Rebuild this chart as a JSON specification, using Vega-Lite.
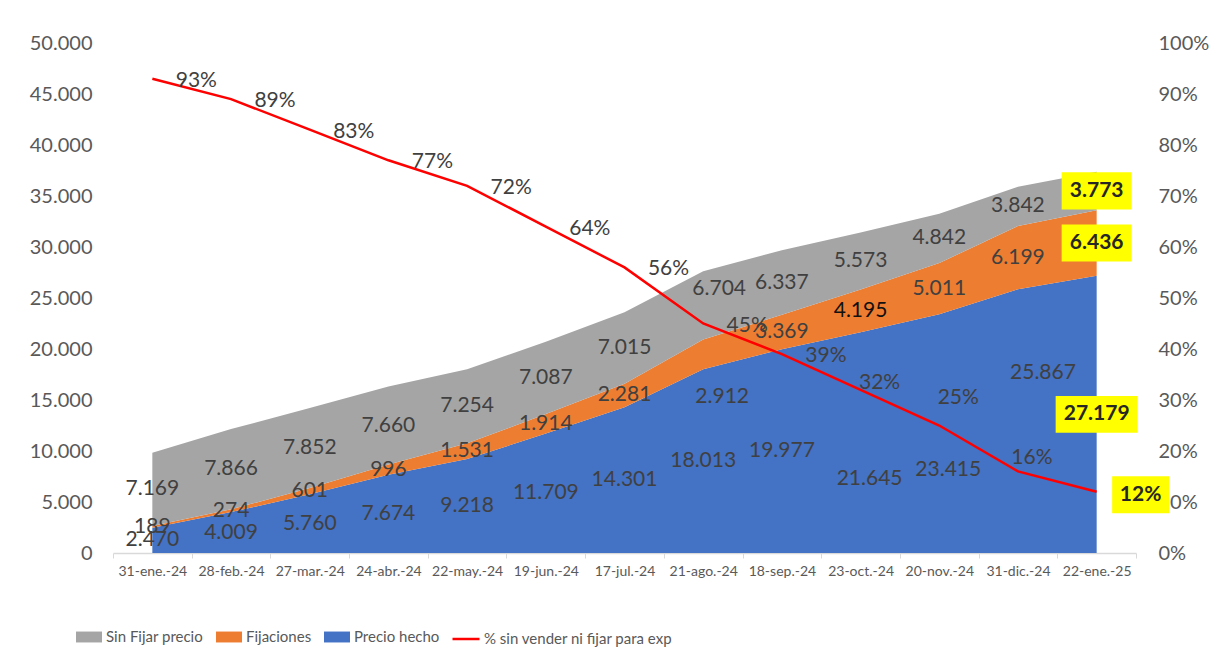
{
  "$schema": "https://vega.github.io/schema/vega-lite/v6.json",
  "width": 1023,
  "height": 510,
  "autosize": {"type": "none"},
  "padding": {"left": 113, "top": 43, "right": 75, "bottom": 119},
  "background": "white",
  "config": {
    "locale": {"number": {"decimal": ",", "thousands": ".", "grouping": [3], "currency": ["", " €"]}},
    "view": {"stroke": null},
    "font": "Lato",
    "axis": {"grid": false, "labelColor": "#595959", "labelFont": "Lato"},
    "legend": {"labelFont": "Lato", "labelColor": "#595959", "labelLimit": 400}
  },
  "datasets": {
    "areas": [
      {"fecha": "31-ene.-24", "serie": "Precio hecho", "valor": 2470},
      {"fecha": "28-feb.-24", "serie": "Precio hecho", "valor": 4009},
      {"fecha": "27-mar.-24", "serie": "Precio hecho", "valor": 5760},
      {"fecha": "24-abr.-24", "serie": "Precio hecho", "valor": 7674},
      {"fecha": "22-may.-24", "serie": "Precio hecho", "valor": 9218},
      {"fecha": "19-jun.-24", "serie": "Precio hecho", "valor": 11709},
      {"fecha": "17-jul.-24", "serie": "Precio hecho", "valor": 14301},
      {"fecha": "21-ago.-24", "serie": "Precio hecho", "valor": 18013},
      {"fecha": "18-sep.-24", "serie": "Precio hecho", "valor": 19977},
      {"fecha": "23-oct.-24", "serie": "Precio hecho", "valor": 21645},
      {"fecha": "20-nov.-24", "serie": "Precio hecho", "valor": 23415},
      {"fecha": "31-dic.-24", "serie": "Precio hecho", "valor": 25867},
      {"fecha": "22-ene.-25", "serie": "Precio hecho", "valor": 27179},
      {"fecha": "31-ene.-24", "serie": "Fijaciones", "valor": 189},
      {"fecha": "28-feb.-24", "serie": "Fijaciones", "valor": 274},
      {"fecha": "27-mar.-24", "serie": "Fijaciones", "valor": 601},
      {"fecha": "24-abr.-24", "serie": "Fijaciones", "valor": 996},
      {"fecha": "22-may.-24", "serie": "Fijaciones", "valor": 1531},
      {"fecha": "19-jun.-24", "serie": "Fijaciones", "valor": 1914},
      {"fecha": "17-jul.-24", "serie": "Fijaciones", "valor": 2281},
      {"fecha": "21-ago.-24", "serie": "Fijaciones", "valor": 2912},
      {"fecha": "18-sep.-24", "serie": "Fijaciones", "valor": 3369},
      {"fecha": "23-oct.-24", "serie": "Fijaciones", "valor": 4195},
      {"fecha": "20-nov.-24", "serie": "Fijaciones", "valor": 5011},
      {"fecha": "31-dic.-24", "serie": "Fijaciones", "valor": 6199},
      {"fecha": "22-ene.-25", "serie": "Fijaciones", "valor": 6436},
      {"fecha": "31-ene.-24", "serie": "Sin Fijar precio", "valor": 7169},
      {"fecha": "28-feb.-24", "serie": "Sin Fijar precio", "valor": 7866},
      {"fecha": "27-mar.-24", "serie": "Sin Fijar precio", "valor": 7852},
      {"fecha": "24-abr.-24", "serie": "Sin Fijar precio", "valor": 7660},
      {"fecha": "22-may.-24", "serie": "Sin Fijar precio", "valor": 7254},
      {"fecha": "19-jun.-24", "serie": "Sin Fijar precio", "valor": 7087},
      {"fecha": "17-jul.-24", "serie": "Sin Fijar precio", "valor": 7015},
      {"fecha": "21-ago.-24", "serie": "Sin Fijar precio", "valor": 6704},
      {"fecha": "18-sep.-24", "serie": "Sin Fijar precio", "valor": 6337},
      {"fecha": "23-oct.-24", "serie": "Sin Fijar precio", "valor": 5573},
      {"fecha": "20-nov.-24", "serie": "Sin Fijar precio", "valor": 4842},
      {"fecha": "31-dic.-24", "serie": "Sin Fijar precio", "valor": 3842},
      {"fecha": "22-ene.-25", "serie": "Sin Fijar precio", "valor": 3773}
    ],
    "pct": [
      {"fecha": "31-ene.-24", "serie": "% sin vender ni fijar para exp", "pct": 0.93},
      {"fecha": "28-feb.-24", "serie": "% sin vender ni fijar para exp", "pct": 0.89},
      {"fecha": "27-mar.-24", "serie": "% sin vender ni fijar para exp", "pct": 0.83},
      {"fecha": "24-abr.-24", "serie": "% sin vender ni fijar para exp", "pct": 0.77},
      {"fecha": "22-may.-24", "serie": "% sin vender ni fijar para exp", "pct": 0.72},
      {"fecha": "19-jun.-24", "serie": "% sin vender ni fijar para exp", "pct": 0.64},
      {"fecha": "17-jul.-24", "serie": "% sin vender ni fijar para exp", "pct": 0.56},
      {"fecha": "21-ago.-24", "serie": "% sin vender ni fijar para exp", "pct": 0.45},
      {"fecha": "18-sep.-24", "serie": "% sin vender ni fijar para exp", "pct": 0.39},
      {"fecha": "23-oct.-24", "serie": "% sin vender ni fijar para exp", "pct": 0.32},
      {"fecha": "20-nov.-24", "serie": "% sin vender ni fijar para exp", "pct": 0.25},
      {"fecha": "31-dic.-24", "serie": "% sin vender ni fijar para exp", "pct": 0.16},
      {"fecha": "22-ene.-25", "serie": "% sin vender ni fijar para exp", "pct": 0.12}
    ]
  },
  "encoding": {
    "x": {
      "field": "fecha",
      "type": "ordinal",
      "title": null,
      "bandPosition": 0.5,
      "scale": {
        "type": "band",
        "paddingInner": 0,
        "paddingOuter": 0,
        "domain": ["31-ene.-24", "28-feb.-24", "27-mar.-24", "24-abr.-24", "22-may.-24", "19-jun.-24", "17-jul.-24", "21-ago.-24", "18-sep.-24", "23-oct.-24", "20-nov.-24", "31-dic.-24", "22-ene.-25"]
      },
      "axis": {
        "labelAngle": 0,
        "labelFontSize": 14,
        "labelPadding": 6,
        "tickBand": "extent",
        "tickSize": 5,
        "tickColor": "#D9D9D9",
        "domainColor": "#D9D9D9",
        "domainWidth": 1.5
      }
    }
  },
  "layer": [
    {
      "data": {"name": "areas"},
      "transform": [
        {"calculate": "indexof(['Precio hecho','Fijaciones','Sin Fijar precio'], datum.serie)", "as": "ord"},
        {"stack": "valor", "groupby": ["fecha"], "sort": [{"field": "ord", "order": "ascending"}], "as": ["v0", "v1"]},
        {"calculate": "(datum.v0 + datum.v1) / 2", "as": "vmid"}
      ],
      "layer": [
        {
          "mark": {"type": "area", "opacity": 1},
          "encoding": {
            "y": {
              "field": "v1", "type": "quantitative", "stack": null, "title": null,
              "scale": {"domain": [0, 50000]},
              "axis": {"values": [0, 5000, 10000, 15000, 20000, 25000, 30000, 35000, 40000, 45000, 50000], "format": ",.0f", "labelFontSize": 20, "labelPadding": 21, "domain": false, "ticks": false, "title": null}
            },
            "y2": {"field": "v0"},
            "color": {
              "field": "serie", "type": "nominal",
              "scale": {"domain": ["Sin Fijar precio", "Fijaciones", "Precio hecho"], "range": ["#A5A5A5", "#ED7D31", "#4472C4"]},
              "legend": {"orient": "none", "legendX": -37, "legendY": 581, "direction": "horizontal", "title": null, "symbolType": "M-1,-0.42L1,-0.42L1,0.42L-1,0.42Z", "symbolSize": 676, "symbolStrokeWidth": 0, "labelFontSize": 15, "columnPadding": 12, "labelOffset": 4}
            }
          }
        },
        {
          "transform": [{"filter": "datum.fecha != '22-ene.-25' && !(datum.fecha == '21-ago.-24' && datum.serie != 'Precio hecho') && !((datum.fecha == '23-oct.-24' || datum.fecha == '20-nov.-24' || datum.fecha == '31-dic.-24') && datum.serie == 'Precio hecho')"}],
          "mark": {"type": "text", "fontSize": 21},
          "encoding": {
            "y": {"field": "vmid", "type": "quantitative", "title": null},
            "text": {"field": "valor", "type": "quantitative", "format": ",.0f"},
            "color": {"condition": {"test": "datum.fecha == '23-oct.-24' && datum.serie == 'Fijaciones'", "value": "#111111"}, "value": "#404040"}
          }
        },
        {
          "transform": [{"filter": "datum.fecha == '21-ago.-24' && datum.serie == 'Fijaciones'"}],
          "mark": {"type": "text", "fontSize": 21, "dx": 19, "dy": 43, "color": "#404040"},
          "encoding": {
            "y": {"field": "vmid", "type": "quantitative", "title": null},
            "text": {"field": "valor", "type": "quantitative", "format": ",.0f"}
          }
        },
        {
          "transform": [{"filter": "datum.fecha == '21-ago.-24' && datum.serie == 'Sin Fijar precio'"}],
          "mark": {"type": "text", "fontSize": 21, "dx": 16, "dy": -16, "color": "#404040"},
          "encoding": {
            "y": {"field": "vmid", "type": "quantitative", "title": null},
            "text": {"field": "valor", "type": "quantitative", "format": ",.0f"}
          }
        },
        {
          "transform": [{"filter": "(datum.fecha == '23-oct.-24' || datum.fecha == '20-nov.-24') && datum.serie == 'Precio hecho'"}],
          "mark": {"type": "text", "fontSize": 21, "dx": 9, "dy": 36, "color": "#404040"},
          "encoding": {
            "y": {"field": "vmid", "type": "quantitative", "title": null},
            "text": {"field": "valor", "type": "quantitative", "format": ",.0f"}
          }
        },
        {
          "transform": [{"filter": "datum.fecha == '31-dic.-24' && datum.serie == 'Precio hecho'"}],
          "mark": {"type": "text", "fontSize": 21, "dx": 25, "dy": -48, "color": "#404040"},
          "encoding": {
            "y": {"field": "vmid", "type": "quantitative", "title": null},
            "text": {"field": "valor", "type": "quantitative", "format": ",.0f"}
          }
        },
        {
          "transform": [{"filter": "datum.fecha == '22-ene.-25' && datum.serie != 'Precio hecho'"}],
          "mark": {"type": "point", "shape": "M-1,-0.53L1,-0.53L1,0.53L-1,0.53Z", "filled": true, "color": "#FFFF00", "opacity": 1, "size": 4900, "strokeWidth": 0},
          "encoding": {
            "y": {"field": "vmid", "type": "quantitative", "title": null}
          }
        },
        {
          "transform": [{"filter": "datum.fecha == '22-ene.-25' && datum.serie == 'Precio hecho'"}],
          "mark": {"type": "point", "shape": "M-1,-0.45L1,-0.45L1,0.45L-1,0.45Z", "filled": true, "color": "#FFFF00", "opacity": 1, "size": 6724, "strokeWidth": 0},
          "encoding": {
            "y": {"field": "vmid", "type": "quantitative", "title": null}
          }
        },
        {
          "transform": [{"filter": "datum.fecha == '22-ene.-25'"}],
          "mark": {"type": "text", "fontSize": 21, "fontWeight": "bold", "color": "#262626"},
          "encoding": {
            "y": {"field": "vmid", "type": "quantitative", "title": null},
            "text": {"field": "valor", "type": "quantitative", "format": ",.0f"}
          }
        }
      ]
    },
    {
      "data": {"name": "pct"},
      "layer": [
        {
          "mark": {"type": "line", "strokeWidth": 2.5},
          "encoding": {
            "y": {
              "field": "pct", "type": "quantitative", "title": null,
              "scale": {"domain": [0, 1]},
              "axis": {"orient": "right", "values": [0, 0.1, 0.2, 0.3, 0.4, 0.5, 0.6, 0.7, 0.8, 0.9, 1], "format": ".0%", "labelFontSize": 20, "labelPadding": 22, "domain": false, "ticks": false, "title": null}
            },
            "stroke": {
              "field": "serie", "type": "nominal",
              "scale": {"range": ["#FF0000"]},
              "legend": {"orient": "none", "legendX": 338, "legendY": 581, "title": null, "symbolType": "stroke", "symbolSize": 729, "symbolStrokeWidth": 2.5, "labelFontSize": 15, "labelOffset": 3}
            }
          }
        },
        {
          "transform": [{"filter": "datum.fecha != '23-oct.-24' && datum.fecha != '20-nov.-24' && datum.fecha != '31-dic.-24' && datum.fecha != '22-ene.-25'"}],
          "mark": {"type": "text", "fontSize": 21, "dx": 44, "dy": 2, "color": "#404040"},
          "encoding": {
            "y": {"field": "pct", "type": "quantitative", "title": null},
            "text": {"field": "pct", "type": "quantitative", "format": ".0%"}
          }
        },
        {
          "transform": [{"filter": "datum.fecha == '23-oct.-24'"}],
          "mark": {"type": "text", "fontSize": 21, "dx": 19, "dy": -7, "color": "#404040"},
          "encoding": {
            "y": {"field": "pct", "type": "quantitative", "title": null},
            "text": {"field": "pct", "type": "quantitative", "format": ".0%"}
          }
        },
        {
          "transform": [{"filter": "datum.fecha == '20-nov.-24'"}],
          "mark": {"type": "text", "fontSize": 21, "dx": 19, "dy": -28, "color": "#404040"},
          "encoding": {
            "y": {"field": "pct", "type": "quantitative", "title": null},
            "text": {"field": "pct", "type": "quantitative", "format": ".0%"}
          }
        },
        {
          "transform": [{"filter": "datum.fecha == '31-dic.-24'"}],
          "mark": {"type": "text", "fontSize": 21, "dx": 14, "dy": -13, "color": "#404040"},
          "encoding": {
            "y": {"field": "pct", "type": "quantitative", "title": null},
            "text": {"field": "pct", "type": "quantitative", "format": ".0%"}
          }
        },
        {
          "transform": [{"filter": "datum.fecha == '22-ene.-25'"}],
          "mark": {"type": "point", "shape": "M-1,-0.65L1,-0.65L1,0.65L-1,0.65Z", "filled": true, "color": "#FFFF00", "opacity": 1, "size": 3249, "strokeWidth": 0, "xOffset": 44, "yOffset": 3},
          "encoding": {
            "y": {"field": "pct", "type": "quantitative", "title": null}
          }
        },
        {
          "transform": [{"filter": "datum.fecha == '22-ene.-25'"}],
          "mark": {"type": "text", "fontSize": 21, "fontWeight": "bold", "dx": 44, "dy": 3, "color": "#262626"},
          "encoding": {
            "y": {"field": "pct", "type": "quantitative", "title": null},
            "text": {"field": "pct", "type": "quantitative", "format": ".0%"}
          }
        }
      ]
    }
  ],
  "resolve": {"scale": {"y": "independent"}}
}
